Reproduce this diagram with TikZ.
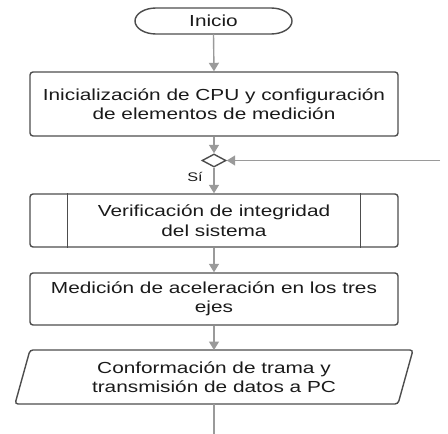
\documentclass[tikz,border=0pt]{standalone}
\usepackage{fontspec}
\setmainfont{Liberation Sans}[FakeStretch=1.3]
\usetikzlibrary{arrows.meta,shapes.geometric}
\definecolor{bord}{HTML}{4D4D4D}
\definecolor{arrc}{HTML}{9A9A9A}
\definecolor{txt}{HTML}{1A1A1A}
\begin{document}
\begin{tikzpicture}[x=1pt,y=-1pt,
  every node/.style={text=txt, font=\fontsize{16}{19.5}\selectfont},
  border/.style={draw=bord, line width=1.4pt},
  procbox/.style={border, rounded corners=3pt, minimum width=368pt, align=center, inner sep=0pt},
  arr/.style={draw=arrc, line width=1.4pt, -{Triangle[width=10pt,length=8.5pt]}},
  plain/.style={draw=arrc, line width=1.4pt}]
\useasboundingbox (0,0) rectangle (448,434);
% start terminal
\draw[border] (156,8) -- (271,8) arc[start angle=-90, end angle=90, x radius=21, y radius=13]
  -- (156,34) arc[start angle=90, end angle=270, x radius=21, y radius=13] -- cycle;
\node[minimum height=26pt, minimum width=150pt, inner sep=0pt] (ini) at (213.5,21) {Inicio};
% boxes
\node[procbox, minimum height=64pt] (b1) at (214,104) {Inicialización de CPU y configuración\\de elementos de medición};
\node[diamond, border, aspect=1.85, minimum width=24pt, minimum height=13pt, inner sep=0pt] (d) at (214,160.5) {};
\node[font=\fontsize{12.5}{14}\selectfont] (si) at (195,177) {Sí};
\node[procbox, minimum height=53pt] (b2) at (214,220.5) {Verificación de integridad\\del sistema};
\draw[border] ([xshift=38pt]b2.north west) -- ([xshift=38pt]b2.south west);
\draw[border] ([xshift=-38pt]b2.north east) -- ([xshift=-38pt]b2.south east);
\node[procbox, minimum height=52pt] (b3) at (214,299) {Medición de aceleración en los tres\\ejes};
% parallelogram
\coordinate (ptl) at (30,350);
\coordinate (ptr) at (413,350);
\coordinate (pbr) at (398,404);
\coordinate (pbl) at (15,404);
\draw[border, rounded corners=3pt] (ptl) -- (ptr) -- (pbr) -- (pbl) -- cycle;
\node[align=center, inner sep=0pt] (p) at (214,377) {Conformación de trama y\\transmisión de datos a PC};
\coordinate (ptop) at (214,350);
\coordinate (pbot) at (214,404);
\coordinate (endb) at (214,434);
\coordinate (loopin) at (440,160.5);
% connectors
\draw[arr] (ini.south) -- (b1.north);
\draw[arr] (b1.south) -- (d.north);
\draw[arr] (loopin) -- (d.east);
\draw[arr] (d.south) -- (b2.north);
\draw[arr] (b2.south) -- (b3.north);
\draw[arr] (b3.south) -- (ptop);
\draw[plain] (pbot) -- (endb);
\end{tikzpicture}
\end{document}
